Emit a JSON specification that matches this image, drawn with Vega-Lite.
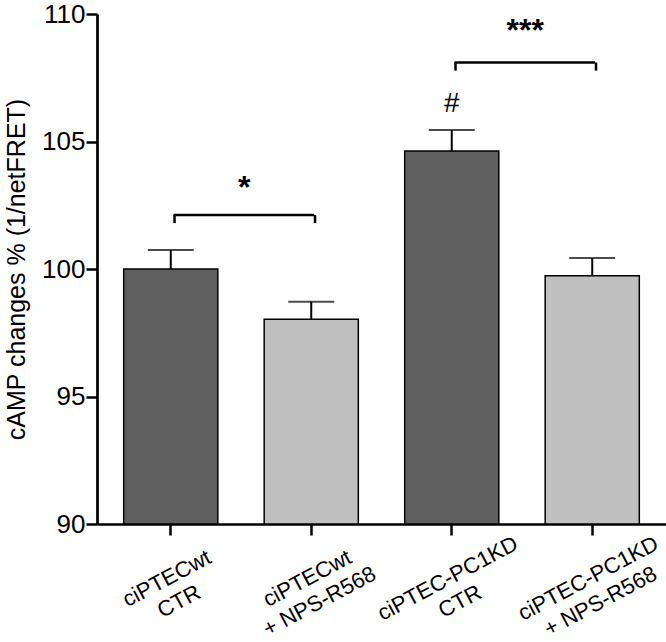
{
  "$schema": "https://vega.github.io/schema/vega-lite/v6.json",
  "width": 569,
  "height": 510,
  "autosize": {"type": "none"},
  "padding": {"left": 97, "top": 14, "right": 0, "bottom": 118},
  "config": {
    "view": {"stroke": null},
    "font": "Liberation Sans",
    "axis": {"domainColor": "black", "tickColor": "black", "labelColor": "black", "titleColor": "black", "labelFont": "Liberation Sans", "titleFont": "Liberation Sans", "grid": false, "tickSize": 11, "tickWidth": 2.5, "domainWidth": 2.7},
    "axisX": {"labelAngle": -28, "labelAlign": "center", "labelBaseline": "middle", "labelPadding": 43, "labelOffset": -4, "labelFontSize": 22, "labelLineHeight": 26}
  },
  "datasets": {
    "bars": [
      {"group": "ciPTECwt\nCTR", "treatment": "CTR", "mean": 100.0, "upper": 100.75},
      {"group": "ciPTECwt\n+ NPS-R568", "treatment": "NPS-R568", "mean": 98.03, "upper": 98.72},
      {"group": "ciPTEC-PC1KD\nCTR", "treatment": "CTR", "mean": 104.63, "upper": 105.45},
      {"group": "ciPTEC-PC1KD\n+ NPS-R568", "treatment": "NPS-R568", "mean": 99.74, "upper": 100.43}
    ],
    "brackets": [
      {"from": "ciPTECwt\nCTR", "to": "ciPTECwt\n+ NPS-R568", "y": 102.12, "yend": 101.8, "label": "*", "ylabel": 102.8},
      {"from": "ciPTEC-PC1KD\nCTR", "to": "ciPTEC-PC1KD\n+ NPS-R568", "y": 108.1, "yend": 107.78, "label": "***", "ylabel": 108.95}
    ],
    "ends": [
      {"group": "ciPTECwt\nCTR", "y": 102.12, "yend": 101.8},
      {"group": "ciPTECwt\n+ NPS-R568", "y": 102.12, "yend": 101.8},
      {"group": "ciPTEC-PC1KD\nCTR", "y": 108.1, "yend": 107.78},
      {"group": "ciPTEC-PC1KD\n+ NPS-R568", "y": 108.1, "yend": 107.78}
    ],
    "marks": [
      {"group": "ciPTEC-PC1KD\nCTR", "label": "#", "y": 106.15}
    ]
  },
  "encoding": {
    "x": {
      "field": "group",
      "type": "nominal",
      "sort": null,
      "title": null,
      "scale": {"domain": ["ciPTECwt\nCTR", "ciPTECwt\n+ NPS-R568", "ciPTEC-PC1KD\nCTR", "ciPTEC-PC1KD\n+ NPS-R568"], "paddingInner": 0.33, "paddingOuter": 0.19},
      "axis": {
        "labelExpr": "split(datum.label, '\\n')",
        "labelAngle": -28,
        "labelFontSize": 22
      }
    }
  },
  "layer": [
    {
      "data": {"name": "bars"},
      "mark": {"type": "bar", "stroke": "black", "strokeWidth": 1.5},
      "encoding": {
        "y": {
          "field": "mean",
          "type": "quantitative",
          "scale": {"domain": [90, 110], "zero": false, "nice": false},
          "axis": {
            "title": "cAMP changes % (1/netFRET)",
            "titleFontSize": 25,
            "titleFontWeight": "normal",
            "titlePadding": 12,
            "values": [90, 95, 100, 105, 110],
            "labelFontSize": 26,
            "labelPadding": 1
          }
        },
        "y2": {"datum": 90},
        "color": {"field": "treatment", "type": "nominal", "scale": {"domain": ["CTR", "NPS-R568"], "range": ["#5f5f5f", "#c0c0c0"]}, "legend": null}
      }
    },
    {
      "data": {"name": "bars"},
      "mark": {"type": "rule", "color": "black", "strokeWidth": 2},
      "encoding": {
        "y": {"field": "mean", "type": "quantitative"},
        "y2": {"field": "upper"}
      }
    },
    {
      "data": {"name": "bars"},
      "mark": {"type": "tick", "color": "black", "size": 46, "thickness": 2},
      "encoding": {
        "y": {"field": "upper", "type": "quantitative"}
      }
    },
    {
      "data": {"name": "brackets"},
      "mark": {"type": "rule", "color": "black", "strokeWidth": 2.5},
      "encoding": {
        "x": {"field": "from", "type": "nominal", "bandPosition": 0.53, "title": null},
        "x2": {"field": "to", "bandPosition": 0.53},
        "y": {"field": "y", "type": "quantitative"}
      }
    },
    {
      "data": {"name": "ends"},
      "mark": {"type": "rule", "color": "black", "strokeWidth": 2.5},
      "encoding": {
        "x": {"field": "group", "type": "nominal", "bandPosition": 0.54, "title": null},
        "y": {"field": "y", "type": "quantitative"},
        "y2": {"field": "yend"}
      }
    },
    {
      "data": {"name": "brackets"},
      "mark": {"type": "text", "fontSize": 32, "fontWeight": "bold", "baseline": "alphabetic", "align": "center", "color": "black"},
      "encoding": {
        "x": {"field": "from", "type": "nominal", "bandPosition": 1.28, "title": null},
        "y": {"field": "ylabel", "type": "quantitative"},
        "text": {"field": "label"}
      }
    },
    {
      "data": {"name": "marks"},
      "mark": {"type": "text", "fontSize": 28, "baseline": "alphabetic", "align": "center", "color": "black"},
      "encoding": {
        "x": {"field": "group", "type": "nominal", "title": null},
        "y": {"field": "y", "type": "quantitative"},
        "text": {"field": "label"}
      }
    }
  ]
}
